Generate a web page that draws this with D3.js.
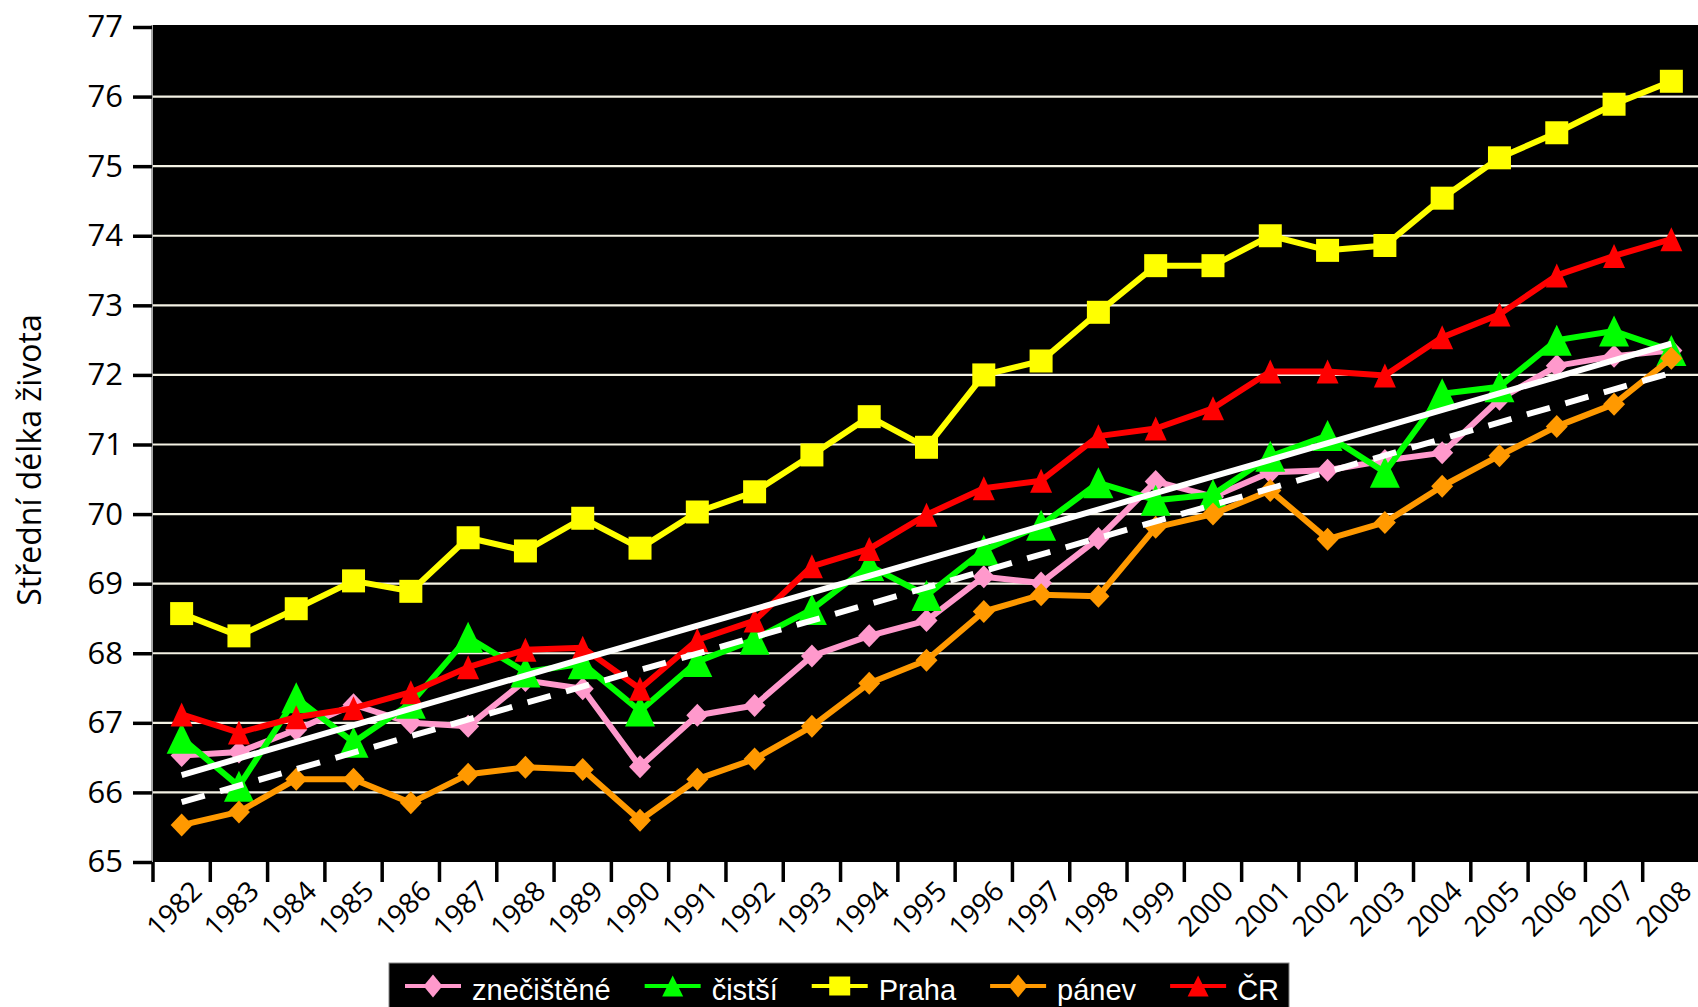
<!DOCTYPE html>
<html lang="cs">
<head>
    <meta charset="UTF-8">
    <title>Střední délka života</title>
    <script src="https://d3js.org/d3.v7.min.js"></script>
</head>
<body>
</body>
<style>
    * {
        margin: 0;
        padding: 0;
    }
    body {
        background: #fff;
    }
    svg {
        display: block;
    }
    .tick text {
        font-family: "Open Sans", sans-serif;
        fill: #000;
    }
</style>
<script>
    var years = [1982, 1983, 1984, 1985, 1986, 1987, 1988, 1989, 1990, 1991, 1992, 1993, 1994, 1995,
                 1996, 1997, 1998, 1999, 2000, 2001, 2002, 2003, 2004, 2005, 2006, 2007, 2008];

    var znecistene = [66.53, 66.58, 66.90, 67.26, 67.00, 66.95, 67.61, 67.49, 66.37, 67.11, 67.25, 67.96, 68.25, 68.47,
                      69.10, 69.01, 69.65, 70.47, 70.25, 70.60, 70.63, 70.77, 70.88, 71.65, 72.13, 72.27, 72.35];
    var cistsi = [66.78, 66.09, 67.36, 66.72, 67.28, 68.23, 67.73, 67.85, 67.17, 67.88, 68.20, 68.63, 69.26, 68.83,
                  69.48, 69.84, 70.45, 70.20, 70.28, 70.83, 71.13, 70.60, 71.73, 71.83, 72.50, 72.63, 72.35];
    var praha = [68.57, 68.25, 68.64, 69.04, 68.89, 69.66, 69.47, 69.94, 69.51, 70.03, 70.32, 70.85, 71.40, 70.96,
                 72.00, 72.20, 72.90, 73.57, 73.57, 74.00, 73.79, 73.86, 74.54, 75.12, 75.48, 75.89, 76.22];
    var panev = [65.53, 65.72, 66.19, 66.19, 65.85, 66.26, 66.36, 66.33, 65.60, 66.19, 66.48, 66.95, 67.57, 67.90,
                 68.60, 68.84, 68.82, 69.81, 70.00, 70.34, 69.64, 69.88, 70.40, 70.84, 71.26, 71.58, 72.24];
    var cr = [67.12, 66.86, 67.08, 67.21, 67.44, 67.80, 68.05, 68.08, 67.49, 68.19, 68.47, 69.25, 69.50, 69.99,
              70.37, 70.48, 71.12, 71.23, 71.52, 72.05, 72.05, 71.99, 72.54, 72.87, 73.43, 73.71, 73.95];

    // trend lines (end points)
    var trendYears = [1982, 2008];
    var trendSolid = [66.25, 72.45];
    var trendDashed = [65.86, 72.03];

    var yTicks = [65, 66, 67, 68, 69, 70, 71, 72, 73, 74, 75, 76, 77];
    var gridValues = [66, 67, 68, 69, 70, 71, 72, 73, 74, 75, 76];

    var seriesNames = ["znečištěné", "čistší", "Praha", "pánev", "ČR"];
    var seriesValues = [znecistene, cistsi, praha, panev, cr];

    var width = 1698,
        height = 1007;

    // plot box (don't use "top" as a global, it's window.top)
    var pLeft = 153, pRight = 1700, pTop = 25, pBottom = 862;

    var styles = [
        {color: "#ff99cc", marker: "diamond", w: 22, h: 23, lw: 19, lh: 23},
        {color: "#00ff00", marker: "triangle", w: 30, h: 31, lw: 21, lh: 21},
        {color: "#ffff00", marker: "square", w: 23, h: 23, lw: 21, lh: 19},
        {color: "#ff9900", marker: "diamond", w: 22, h: 23, lw: 19, lh: 23},
        {color: "#ff0000", marker: "triangle", w: 22, h: 24, lw: 21, lh: 21}
    ];

    function markerPath(type, w, h) {
        var a = w / 2, b = h / 2;
        if (type === "diamond") return "M0," + (-b) + "L" + a + ",0L0," + b + "L" + (-a) + ",0Z";
        if (type === "triangle") return "M0," + (-b) + "L" + a + "," + b + "L" + (-a) + "," + b + "Z";
        return "M" + (-a) + "," + (-b) + "H" + a + "V" + b + "H" + (-a) + "Z";
    }

    var x = d3.scaleBand()
        .domain(years)
        .range([pLeft, pRight]);

    var y = d3.scaleLinear()
        .domain([65, 77])
        .range([pBottom, 27]);

    var svg = d3.select("body")
        .append("svg")
        .attr("width", width)
        .attr("height", height);

    // plot area
    svg.append("rect")
        .attr("x", pLeft)
        .attr("y", pTop)
        .attr("width", pRight - pLeft)
        .attr("height", pBottom - pTop)
        .style("fill", "#000");

    svg.selectAll("line.grid")
        .data(gridValues)
        .enter()
        .append("line")
        .attr("class", "grid")
        .attr("x1", pLeft)
        .attr("x2", pRight)
        .attr("y1", function(d) { return y(d); })
        .attr("y2", function(d) { return y(d); })
        .style("stroke", "#f4f2e4")
        .style("stroke-width", 2.2);

    // y axis
    var yAxis = svg.append("g")
        .attr("transform", "translate(" + (pLeft - 1) + ",0)")
        .call(d3.axisLeft(y).tickValues(yTicks).tickSize(19).tickPadding(10).tickFormat(d3.format("d")));
    yAxis.select(".domain")
        .attr("d", "M0," + pTop + "V" + pBottom)
        .style("stroke", "#888")
        .style("stroke-width", 1.5);
    yAxis.selectAll(".tick line")
        .style("stroke", "#000")
        .style("stroke-width", 3.5);
    yAxis.selectAll(".tick text")
        .style("font-size", "31px");

    // x axis: ticks on category boundaries, labels rotated
    var bounds = years.map(function(d) { return x(d); }).concat([x(years[years.length - 1]) + x.bandwidth()]);
    svg.selectAll("line.xtick")
        .data(bounds)
        .enter()
        .append("line")
        .attr("class", "xtick")
        .attr("x1", function(d) { return d; })
        .attr("x2", function(d) { return d; })
        .attr("y1", pBottom)
        .attr("y2", pBottom + 20)
        .style("stroke", function(d, i) { return i === bounds.length - 1 ? "#999" : "#000"; })
        .style("stroke-width", 3.5);

    var xAxis = svg.append("g")
        .attr("transform", "translate(0," + pBottom + ")")
        .call(d3.axisBottom(x).tickSize(0).tickFormat(d3.format("d")));
    xAxis.select(".domain").remove();
    xAxis.selectAll(".tick text")
        .style("font-size", "28px")
        .attr("text-anchor", "end")
        .attr("dy", null)
        .attr("y", 0)
        .attr("transform", "translate(22,31) rotate(-45)");

    // y title
    svg.append("text")
        .attr("transform", "translate(41,460) rotate(-90)")
        .attr("text-anchor", "middle")
        .style("font-family", "'Open Sans', sans-serif")
        .style("font-size", "32px")
        .text("Střední délka života");

    // series
    var line = d3.line()
        .x(function(d, i) { return x(years[i]) + x.bandwidth() / 2; })
        .y(function(d) { return y(d); });

    seriesValues.forEach(function(vals, k) {
        var st = styles[k];
        var g = svg.append("g");
        g.append("path")
            .datum(vals)
            .attr("d", line)
            .style("fill", "none")
            .style("stroke", st.color)
            .style("stroke-width", 6)
            .style("stroke-linejoin", "round");
        g.selectAll("path.m")
            .data(vals)
            .enter()
            .append("path")
            .attr("class", "m")
            .attr("d", markerPath(st.marker, st.w, st.h))
            .attr("transform", function(d, i) {
                return "translate(" + (x(years[i]) + x.bandwidth() / 2) + "," + y(d) + ")";
            })
            .style("fill", st.color);
    });

    // trend lines
    var trendLine = d3.line()
        .x(function(d, i) { return x(trendYears[i]) + x.bandwidth() / 2; })
        .y(function(d) { return y(d); });

    svg.append("path")
        .datum(trendSolid)
        .attr("d", trendLine)
        .style("stroke", "#fff")
        .style("stroke-width", 6);

    svg.append("path")
        .datum(trendDashed)
        .attr("d", trendLine)
        .style("stroke", "#fff")
        .style("stroke-width", 6)
        .style("stroke-dasharray", "24,16");

    // legend
    var legend = svg.append("g");
    var legendBox = legend.append("rect")
        .attr("x", 389)
        .attr("y", 963)
        .attr("height", 60)
        .style("fill", "#000")
        .style("stroke", "#888")
        .style("stroke-width", 1);

    var lx = 405, ly = 986;
    seriesNames.forEach(function(name, k) {
        var st = styles[k];
        legend.append("line")
            .attr("x1", lx)
            .attr("x2", lx + 56)
            .attr("y1", ly)
            .attr("y2", ly)
            .style("stroke", st.color)
            .style("stroke-width", 4);
        legend.append("path")
            .attr("d", markerPath(st.marker, st.lw, st.lh))
            .attr("transform", "translate(" + (lx + 28) + "," + ly + ")")
            .style("fill", st.color);
        var t = legend.append("text")
            .attr("x", lx + 67)
            .attr("y", 1000)
            .style("font-family", "'Liberation Sans', Arial, sans-serif")
            .style("font-size", "29px")
            .style("fill", "#fff")
            .text(name);
        var w = t.node().getComputedTextLength();
        lx = lx + 67 + w + 34;
    });
    legendBox.attr("width", lx - 34 + 10 - 389);
</script>
</html>
